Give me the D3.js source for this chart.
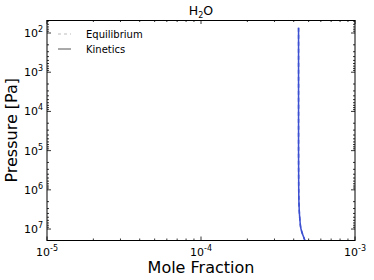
<!DOCTYPE html>
<html>
<head>
<meta charset="utf-8">
<script src="https://cdn.jsdelivr.net/npm/d3@7"></script>
<style>
  body { margin: 0; background: #fff; }
  text { font-family: "DejaVu Sans", sans-serif; fill: #000; }
</style>
</head>
<body>
<div id="chart"></div>
<script>
// pressure levels [Pa] and H2O mole fraction
var pressure = [73, 1e3, 1e4, 1e5, 1e6, 3e6, 6e6, 1e7, 1.4e7, 1.9e7];
var kinetics = [4.30e-4, 4.30e-4, 4.30e-4, 4.30e-4, 4.31e-4, 4.34e-4, 4.39e-4, 4.46e-4, 4.58e-4, 4.72e-4];
var equilibrium = [4.30e-4, 4.30e-4, 4.30e-4, 4.30e-4, 4.31e-4, 4.34e-4, 4.39e-4, 4.46e-4, 4.58e-4, 4.72e-4];
var xTicks = [-5, -4, -3];
var yTicks = [2, 3, 4, 5, 6, 7];
var legendNames = ["Equilibrium", "Kinetics"];

var width = 374, height = 280;
var margin = {top: 20, right: 19, bottom: 39.5, left: 47};

var svg = d3.select("#chart").append("svg")
    .attr("width", width)
    .attr("height", height);

var x = d3.scaleLog()
    .domain([1e-5, 1e-3])
    .range([margin.left, width - margin.right]);

var y = d3.scaleLog()
    .domain([46.6, 1.96e7])
    .range([margin.top, height - margin.bottom]);

var plot = svg.append("g");

// minor ticks at 2..9 of every decade
function minorValues(lo, hi) {
    var out = [];
    for (var e = lo; e < hi; e++) {
        for (var m = 2; m < 10; m++) out.push(m * Math.pow(10, e));
    }
    return out;
}
var xMinor = minorValues(-5, -3);
var yMinor = minorValues(1, 8).filter(function(v){ return v > y.domain()[0] && v < y.domain()[1]; });

var x0 = margin.left, x1 = width - margin.right;
var y0 = margin.top, y1 = height - margin.bottom;

// ticks inside, on all four sides
var ticks = plot.append("g").attr("stroke", "#000").attr("stroke-width", 0.8);
xTicks.forEach(function(e){
    var px = x(Math.pow(10, e));
    ticks.append("line").attr("x1", px).attr("x2", px).attr("y1", y1).attr("y2", y1 - 4);
    ticks.append("line").attr("x1", px).attr("x2", px).attr("y1", y0).attr("y2", y0 + 4);
});
xMinor.forEach(function(v){
    var px = x(v);
    ticks.append("line").attr("x1", px).attr("x2", px).attr("y1", y1).attr("y2", y1 - 2);
    ticks.append("line").attr("x1", px).attr("x2", px).attr("y1", y0).attr("y2", y0 + 2);
});
yTicks.forEach(function(e){
    var py = y(Math.pow(10, e));
    ticks.append("line").attr("x1", x0).attr("x2", x0 + 4).attr("y1", py).attr("y2", py);
    ticks.append("line").attr("x1", x1).attr("x2", x1 - 4).attr("y1", py).attr("y2", py);
});
yMinor.forEach(function(v){
    var py = y(v);
    ticks.append("line").attr("x1", x0).attr("x2", x0 + 2).attr("y1", py).attr("y2", py);
    ticks.append("line").attr("x1", x1).attr("x2", x1 - 2).attr("y1", py).attr("y2", py);
});

// profiles
var rows = pressure.map(function(p, i){ return {p: p, k: kinetics[i], e: equilibrium[i]}; });

var eqLine = d3.line()
    .x(function(d){ return x(d.e); })
    .y(function(d){ return y(d.p); })
    .curve(d3.curveMonotoneY);
var kinLine = d3.line()
    .x(function(d){ return x(d.k); })
    .y(function(d){ return y(d.p); })
    .curve(d3.curveMonotoneY);

plot.append("path").datum(rows)
    .attr("d", eqLine)
    .attr("fill", "none")
    .attr("stroke", "#3b4fd0")
    .attr("stroke-width", 1.5)
    .attr("stroke-dasharray", "4,3");
plot.append("path").datum(rows)
    .attr("d", kinLine)
    .attr("fill", "none")
    .attr("stroke", "#3b4fd0")
    .attr("stroke-width", 1.5);

// frame
svg.append("rect")
    .attr("x", x0).attr("y", y0 + 0.5)
    .attr("width", x1 - x0).attr("height", y1 - y0 - 0.5)
    .attr("fill", "none")
    .attr("stroke", "#000")
    .attr("stroke-width", 1);

// tick labels
var xl = svg.append("g").attr("font-size", 11);
xTicks.forEach(function(e){
    var t = xl.append("text")
        .attr("x", x(Math.pow(10, e)))
        .attr("y", 256)
        .attr("text-anchor", "middle");
    t.append("tspan").text("10");
    t.append("tspan").attr("font-size", 8).attr("dy", -5).text(e);
});

var yl = svg.append("g").attr("font-size", 11);
yTicks.forEach(function(e){
    var t = yl.append("text")
        .attr("x", 43)
        .attr("y", y(Math.pow(10, e)) + 4)
        .attr("text-anchor", "end");
    t.append("tspan").text("10");
    t.append("tspan").attr("font-size", 8).attr("dy", -5).text(e);
});

// title
var title = svg.append("text")
    .attr("x", (x0 + x1) / 2)
    .attr("y", 15)
    .attr("text-anchor", "middle")
    .attr("font-size", 12.5);
title.append("tspan").text("H");
title.append("tspan").attr("font-size", 8).attr("dy", 3).text("2");
title.append("tspan").attr("dy", -3).text("O");

// axis labels
svg.append("text")
    .attr("x", (x0 + x1) / 2)
    .attr("y", 273)
    .attr("text-anchor", "middle")
    .attr("font-size", 16)
    .text("Mole Fraction");

svg.append("text")
    .attr("transform", "translate(17," + ((y0 + y1) / 2) + ") rotate(-90)")
    .attr("text-anchor", "middle")
    .attr("font-size", 16)
    .text("Pressure [Pa]");

// legend
var legend = svg.append("g").attr("font-size", 10);
legendNames.forEach(function(name, i){
    var ly = 34 + i * 15;
    legend.append("line")
        .attr("x1", 58).attr("x2", 71)
        .attr("y1", ly).attr("y2", ly)
        .attr("stroke", i === 0 ? "#bbb" : "#555")
        .attr("stroke-width", 1)
        .attr("stroke-dasharray", i === 0 ? "3,3" : null);
    legend.append("text")
        .attr("x", 86)
        .attr("y", ly + 3.5)
        .text(name);
});
</script>
</body>
</html>
